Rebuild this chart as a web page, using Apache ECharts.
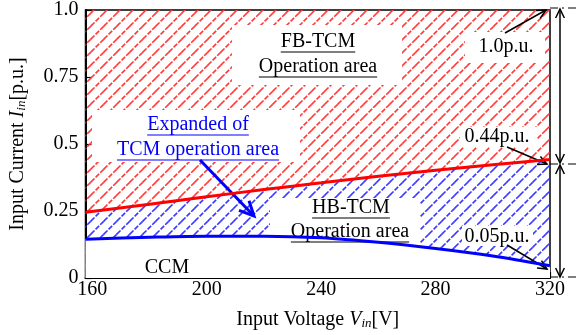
<!DOCTYPE html>
<html><head><meta charset="utf-8">
<script src="https://cdn.jsdelivr.net/npm/echarts@6/dist/echarts.min.js"></script>
<style>html,body{margin:0;padding:0;background:#fff}#c{width:579px;height:335px}</style>
</head><body><div id="c"></div>
<script>
// ---- data ----
var voltage   = [157.6, 180, 200, 220, 240, 260, 280, 300, 320];
var fbBoundary = [0.245, 0.275, 0.303, 0.330, 0.355, 0.380, 0.402, 0.423, 0.442];   // red line
var ccmBoundary = [0.145, 0.152, 0.156, 0.156, 0.150, 0.133, 0.110, 0.082, 0.046]; // blue line
var xTicks = [160, 200, 240, 280, 320];
var yTickLabels = {0:'0', 0.25:'0.25', 0.5:'0.5', 0.75:'0.75', 1:'1.0'};
var FONT = "'Liberation Serif','Times New Roman',serif";

function hatch(color){
  var s = 13, c = document.createElement('canvas');
  c.width = s; c.height = s;
  var g = c.getContext('2d');
  g.strokeStyle = color; g.lineWidth = 1.6; g.setLineDash([5,1.5]);
  g.beginPath();
  g.moveTo(0, s); g.lineTo(s, 0);
  g.moveTo(-s/2, s/2); g.lineTo(s/2, -s/2);
  g.moveTo(s/2, s*1.5); g.lineTo(s*1.5, s/2);
  g.stroke();
  return {image: c, repeat: 'repeat'};
}
function pairs(a){ return voltage.map(function(v,i){return [v,a[i]];}); }

var mctx = document.createElement('canvas').getContext('2d');
function tw(t, size){ mctx.font = size + 'px ' + FONT; return mctx.measureText(t).width; }

var gfx = [];
function box(x1,y1,x2,y2){ gfx.push({type:'rect', z:30, shape:{x:x1,y:y1,width:x2-x1,height:y2-y1}, style:{fill:'#fff'}}); }
function label(cx, cy, t, color, underline){
  var fs = 20;
  gfx.push({type:'text', z:40, style:{text:t, x:cx, y:cy, align:'center', verticalAlign:'middle', font: fs+'px '+FONT, fill:color}});
  if (underline) {
    var w = tw(t, fs);
    gfx.push({type:'line', z:40, shape:{x1:cx-w/2, y1:cy+10, x2:cx+w/2, y2:cy+10}, style:{stroke:color, lineWidth:1.2}});
  }
}
function arrow(x1,y1,x2,y2,color,lw,head){
  gfx.push({type:'line', z:40, shape:{x1:x1,y1:y1,x2:x2,y2:y2}, style:{stroke:color, lineWidth:lw}});
  var a = Math.atan2(y2-y1, x2-x1), h = head, sp = 0.45;
  gfx.push({type:'polyline', z:40, shape:{points:[[x2-h*Math.cos(a-sp), y2-h*Math.sin(a-sp)],[x2,y2],[x2-h*Math.cos(a+sp), y2-h*Math.sin(a+sp)]]}, style:{stroke:color, lineWidth:lw, fill:null}});
}

box(232,25,402,85);
box(92,110,300,162);
box(270,198,420,246);
box(465,32,545,63);
box(460,127,537,147);
box(462,226,533,246);

label(318,42,'FB-TCM','#000',true);
label(318,67,'Operation area','#000',true);
label(198,125,'Expanded of','#0000ff',true);
label(198,150,'TCM operation area','#0000ff',true);
label(351,208,'HB-TCM','#000',true);
label(350,232,'Operation area','#000',true);
label(167,268,'CCM','#000',false);
label(506,47,'1.0p.u.','#000',false);
label(497,137,'0.44p.u.','#000',false);
label(497,237,'0.05p.u.','#000',false);

arrow(200,160,254,216,'#0000ff',3,16);
arrow(505,33,546,10,'#000',1.5,10);
arrow(507,147,547,164,'#000',1.5,10);
arrow(507,245,547,269,'#000',1.5,10);
arrow(560,86,560,9,'#000',1.5,10);
arrow(560,86,560,163,'#000',1.5,10);
arrow(560,220,560,165,'#000',1.5,10);
arrow(560,220,560,277,'#000',1.5,10);
[8,164,277].forEach(function(y){
  gfx.push({type:'line', z:40, shape:{x1:550,y1:y,x2:578,y2:y}, style:{stroke:'#000', lineWidth:1.2, lineDash:[8,4,2,4]}});
});

var nameRich = {
  n:{fontFamily:FONT, fontSize:20, color:'#000'},
  i:{fontFamily:FONT, fontSize:20, fontStyle:'italic', color:'#000'},
  s:{fontFamily:FONT, fontSize:13, fontStyle:'italic', color:'#000', verticalAlign:'bottom', padding:[8,0,0,0]}
};

var chart = echarts.init(document.getElementById('c'), null, {renderer:'canvas'});
chart.setOption({
  animation:false,
  backgroundColor:'#fff',
  grid:{left:84, right:29, top:8, bottom:46, show:true, borderColor:'#000', borderWidth:1.5, backgroundColor:'transparent'},
  xAxis:{type:'value', min:157.6, max:320,
    name:'{n|Input Voltage }{i|V}{s|in}{n|[V]}', nameLocation:'middle', nameGap:31,
    nameTextStyle:{rich:nameRich},
    axisLine:{lineStyle:{color:'#000', width:2}},
    axisTick:{inside:true, length:6, lineStyle:{color:'#000', width:1.2}, customValues:xTicks},
    axisLabel:{customValues:xTicks, color:'#000', fontFamily:FONT, fontSize:20, margin:2},
    splitLine:{show:false}},
  yAxis:{type:'value', min:0, max:1, interval:0.25,
    name:'{n|Input Current }{i|I}{s|in}{n|[p.u.]}', nameLocation:'middle', nameGap:57, nameRotate:90,
    nameTextStyle:{rich:nameRich},
    axisLine:{lineStyle:{color:'#000', width:2}},
    axisTick:{inside:true, length:6, lineStyle:{color:'#000', width:1.2}},
    axisLabel:{color:'#000', fontFamily:FONT, fontSize:20, margin:7, formatter:function(v){return yTickLabels[v];}},
    splitLine:{show:false}},
  series:[
    {type:'line', data:pairs(fbBoundary), symbol:'none', smooth:0.3, lineStyle:{width:0, opacity:0}, areaStyle:{origin:'start', color:hatch('#3a3aff'), opacity:1}, z:1, silent:true},
    {type:'line', data:pairs(fbBoundary), symbol:'none', smooth:0.3, lineStyle:{width:0, opacity:0}, areaStyle:{origin:'end', color:hatch('#ff3a3a'), opacity:1}, z:1, silent:true},
    {type:'line', data:pairs(ccmBoundary), symbol:'none', smooth:0.3, lineStyle:{width:0, opacity:0}, areaStyle:{origin:'start', color:'#ffffff', opacity:1}, z:2, silent:true},
    {type:'line', data:pairs(fbBoundary), symbol:'none', smooth:0.3, lineStyle:{color:'#ff0000', width:3}, z:50},
    {type:'line', data:pairs(ccmBoundary), symbol:'none', smooth:0.3, lineStyle:{color:'#0000ff', width:3}, z:50}
  ],
  graphic:gfx
});
</script></body></html>
